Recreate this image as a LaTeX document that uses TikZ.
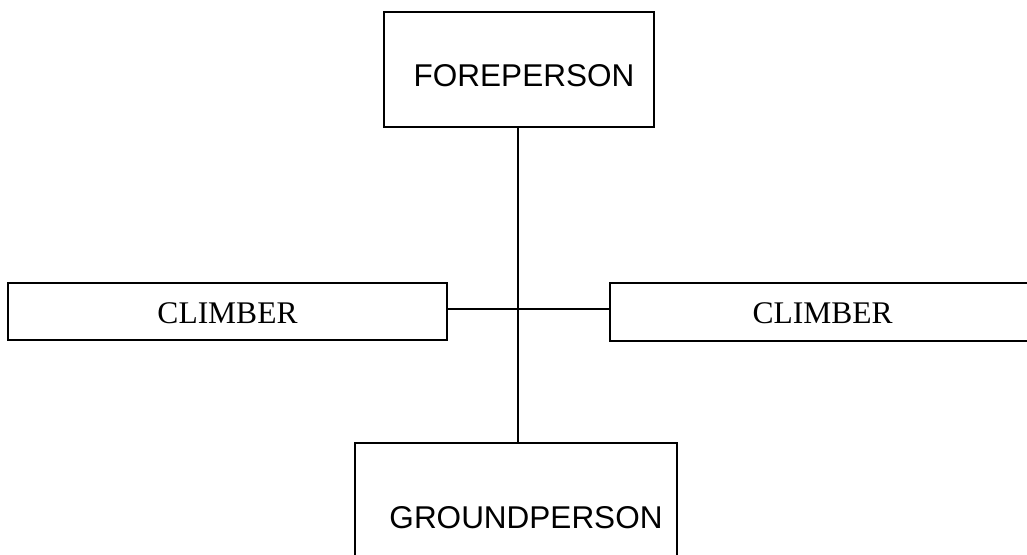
\documentclass[tikz,border=0pt]{standalone}
\usepackage{fontspec}
\setmainfont{Liberation Serif}
\newfontfamily\arialfont{Liberation Sans}
\begin{document}
\begin{tikzpicture}[x=1pt,y=-1pt,
  box/.style={draw=black, line width=1.6pt, rectangle, inner sep=0pt, outer sep=0pt},
  sanslabel/.style={font=\arialfont\fontsize{31.5}{36}\selectfont, inner sep=0pt, anchor=base},
  seriflabel/.style={font=\fontsize{31.5}{36}\selectfont, inner sep=0pt, anchor=base},
  conn/.style={draw=black, line width=1.6pt}]
\useasboundingbox (0,0) rectangle (1027,554);
\clip (0,0) rectangle (1027,554);
\fill[white] (0,0) rectangle (1027,554);
% boxes
\node[box, minimum width=270pt, minimum height=115pt] (fore) at (519,69.5) {};
\node[box, minimum width=439pt, minimum height=57pt] (left) at (227.5,311.5) {};
\node[box, minimum width=440pt, minimum height=58pt] (right) at (830,312) {};
\node[box, minimum width=322pt, minimum height=130pt] (ground) at (516,508) {};
% texts
\node[sanslabel] (foretext) at (524,86) {FOREPERSON};
\node[seriflabel] (lefttext) at (227.5,323) {CLIMBER};
\node[seriflabel] (righttext) at (822.5,323) {CLIMBER};
\node[sanslabel] (groundtext) at (526,528) {GROUNDPERSON};
% connectors
\coordinate (j) at (518,309);
\draw[conn] (j |- fore.south) -- (j |- ground.north);
\draw[conn] (left.east |- j) -- (right.west |- j);
\end{tikzpicture}
\end{document}
